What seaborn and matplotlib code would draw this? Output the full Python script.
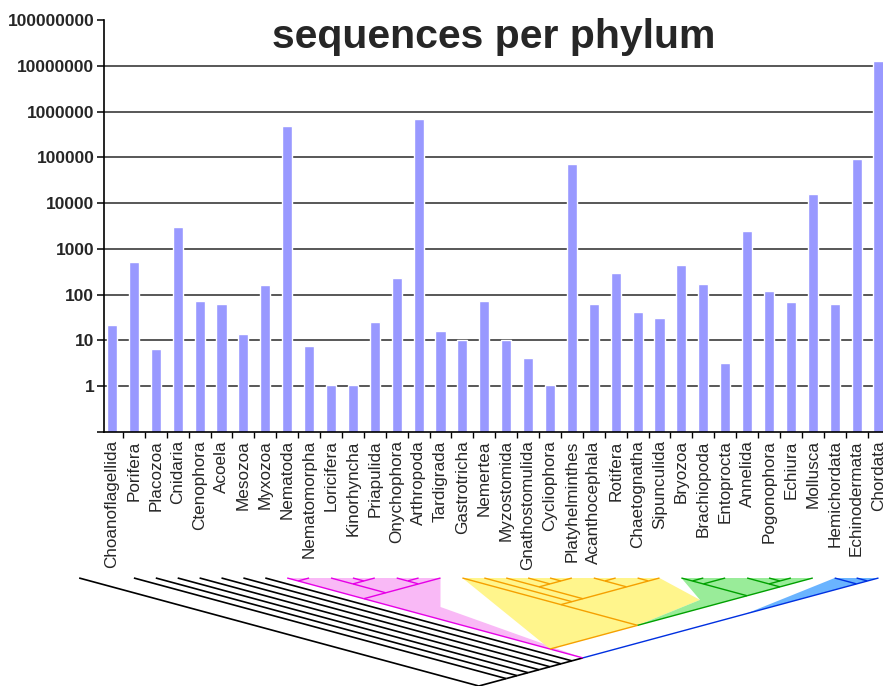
import numpy as np
import pandas as pd
import matplotlib
matplotlib.use("Agg")
import matplotlib.pyplot as plt
from matplotlib.ticker import NullLocator
import seaborn as sns

PHYLA = [
    "Choanoflagellida", "Porifera", "Placozoa", "Cnidaria", "Ctenophora",
    "Acoela", "Mesozoa", "Myxozoa", "Nematoda", "Nematomorpha", "Loricifera",
    "Kinorhyncha", "Priapulida", "Onychophora", "Arthropoda", "Tardigrada",
    "Gastrotricha", "Nemertea", "Myzostomida", "Gnathostomulida",
    "Cycliophora", "Platyhelminthes", "Acanthocephala", "Rotifera",
    "Chaetognatha", "Sipunculida", "Bryozoa", "Brachiopoda", "Entoprocta",
    "Annelida", "Pogonophora", "Echiura", "Mollusca", "Hemichordata",
    "Echinodermata", "Chordata",
]
SEQUENCES = [
    22, 510, 6.5, 3000, 72,
    64, 13.5, 160, 480000, 7.5, 1.05,
    1.05, 25.5, 233, 700000, 16.4,
    10, 72, 10, 4.2,
    1.05, 73000, 61, 300,
    41, 31, 454, 172, 3.2,
    2420, 123, 70, 15900, 64,
    92000, 13000000,
]
Y_TICKS = [0.1, 1, 10, 100, 1000, 10000, 100000, 1000000, 10000000, 100000000]
Y_TICK_LABELS = ["", "1", "10", "100", "1000", "10000", "100000", "1000000",
                 "10000000", "100000000"]

# tree drawn under the labels (slanted cladogram)
ECDYSOZOA = (("Nematoda", "Nematomorpha"),
             (("Loricifera", ("Kinorhyncha", "Priapulida")),
              (("Onychophora", "Arthropoda"), "Tardigrada")))
LOPHO_YELLOW = ("Gastrotricha",
                ("Nemertea",
                 (("Myzostomida", ("Gnathostomulida", ("Cycliophora", "Platyhelminthes"))),
                  (("Acanthocephala", "Rotifera"), ("Chaetognatha", "Sipunculida")))))
LOPHO_GREEN = ((("Bryozoa", "Brachiopoda"), "Entoprocta"),
               (("Annelida", ("Pogonophora", "Echiura")), "Mollusca"))
LOPHOTROCHOZOA = (LOPHO_YELLOW, LOPHO_GREEN)
PROTOSTOMIA = (ECDYSOZOA, LOPHOTROCHOZOA)
DEUTEROSTOMIA = ("Hemichordata", ("Echinodermata", "Chordata"))
BILATERIA = (PROTOSTOMIA, DEUTEROSTOMIA)
TREE = ("Choanoflagellida", ("Porifera", ("Placozoa", ("Cnidaria", ("Ctenophora",
        ("Acoela", ("Mesozoa", ("Myxozoa", BILATERIA))))))))
OUTGROUP_SHIFT = -1.5  # choanoflagellate tip sits left of its bar

# clade -> line colour
CLADE_LINE = {
    PROTOSTOMIA: "#e600e6",
    ECDYSOZOA: "#e600e6",
    LOPHOTROCHOZOA: "#f5a000",
    LOPHO_YELLOW: "#f5a000",
    LOPHO_GREEN: "#00a000",
    DEUTEROSTOMIA: "#0030e0",
}
PINK, YELLOW, GREEN, BLUE = "#f9b9f6", "#fff58c", "#99ec99", "#6ab4ff"

BAR_COLOUR = "#9999ff"

sns.set_style("ticks")
plt.rcParams["font.family"] = ["Liberation Sans", "DejaVu Sans"]

W_PX, H_PX = 883, 686
fig = plt.figure(figsize=(W_PX / 100, H_PX / 100), dpi=100)

XLIM = (-0.365, 35.6)
STEP_PX = 21.9
left_px, bottom_px, top_px = 104, 254, 666
ax_w_px = (XLIM[1] - XLIM[0]) * STEP_PX
ax = fig.add_axes([left_px / W_PX, bottom_px / H_PX, ax_w_px / W_PX,
                   (top_px - bottom_px) / H_PX])

df = pd.DataFrame({"phylum": PHYLA, "sequences": SEQUENCES})
sns.barplot(data=df, x="phylum", y="sequences", color=BAR_COLOUR,
            saturation=1, width=0.46, ax=ax, zorder=2)
ax.set_yscale("log")
ax.set_ylim(Y_TICKS[0], Y_TICKS[-1])
ax.set_xlim(XLIM)

for v in Y_TICKS[1:-1]:
    ax.axhline(v, color="#2a2a2a", lw=1.1, zorder=1)

for s in ["top", "right"]:
    ax.spines[s].set_visible(False)
for s in ["left", "bottom"]:
    ax.spines[s].set_color("black")
    ax.spines[s].set_linewidth(1.2)

ax.yaxis.set_minor_locator(NullLocator())
ax.set_yticks(Y_TICKS)
ax.set_yticklabels(Y_TICK_LABELS, fontsize=12.5, fontweight="bold")
ax.tick_params(axis="y", length=5, width=1.1, color="black", pad=2)

n = len(PHYLA)
ax.set_xticks(range(n))
ax.set_xticklabels(PHYLA, rotation=90, fontsize=12.3, ha="center", va="top")
ax.set_xticks(np.arange(0.5, n), minor=True)
ax.tick_params(axis="x", which="major", length=0, pad=6)
ax.tick_params(axis="x", which="minor", length=4, width=1, color="black")
ax.set_xlabel("")
ax.set_ylabel("")

fig.text(494 / W_PX, 1 - 37 / H_PX, "sequences per phylum", ha="center",
         va="center", fontsize=29.5, fontweight="bold")

# ---- cladogram ----
tip_x = {p: i for i, p in enumerate(PHYLA)}
tip_x["Choanoflagellida"] += OUTGROUP_SHIFT


def span(node):
    if isinstance(node, str):
        return tip_x[node], tip_x[node]
    return span(node[0])[0], span(node[-1])[1]


def node_pos(node):
    l, r = span(node)
    return (l + r) / 2, -(r - l) / 2


def tip(name):
    return tip_x[name], 0


def draw(node, colour, tax):
    if isinstance(node, str):
        return
    px, py = node_pos(node)
    for child in node:
        c_col = CLADE_LINE.get(child, colour)
        cx, cy = node_pos(child)
        tax.plot([px, cx], [py, cy], color=c_col,
                 lw=1.2 if c_col == "black" else 1.0,
                 solid_capstyle="butt", clip_on=False, zorder=3)
        draw(child, c_col, tax)


tree_h_px = 108
tax = fig.add_axes([0, 0, 1, tree_h_px / H_PX])
x0_px = left_px + (0 - XLIM[0]) * STEP_PX
tax.set_xlim(-x0_px / STEP_PX, (W_PX - x0_px) / STEP_PX)
root_l, root_r = span(TREE)
tax.set_ylim(-(root_r - root_l) / 2, 0)
tax.axis("off")

# shaded clade areas, built from the tree layout
yg_corner = (26.85, -3.7)  # where the yellow and green areas meet
bl_x, bl_y = node_pos(BILATERIA)
fills = [
    (PINK, [tip("Nematoda"), tip("Tardigrada"), (15.0, -4.9), node_pos(BILATERIA)]),
    (YELLOW, [tip("Gastrotricha"), tip("Sipunculida"), yg_corner,
              node_pos(LOPHOTROCHOZOA), node_pos(PROTOSTOMIA)]),
    (GREEN, [tip("Bryozoa"), tip("Mollusca"), node_pos(LOPHOTROCHOZOA), yg_corner]),
    (BLUE, [tip("Hemichordata"), tip("Chordata"),
            (35 + 0.45 * (bl_x - 35), 0.45 * bl_y)]),
]
for colour, verts in fills:
    xs, ys = zip(*verts)
    tax.fill(xs, ys, color=colour, lw=0, zorder=1, clip_on=False)

draw(TREE, "black", tax)

fig.savefig("out.png", dpi=100)
